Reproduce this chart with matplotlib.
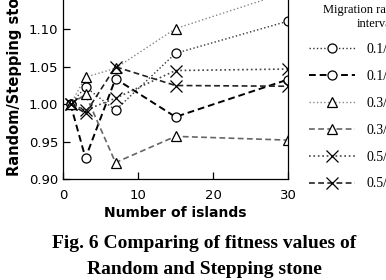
import matplotlib
matplotlib.use("Agg")
import matplotlib.pyplot as plt

islands = [1, 3, 7, 15, 30]
labels = ["0.1/5", "0.1/10", "0.3/5", "0.3/10", "0.5/5", "0.5/10"]
r01_a = [1.000, 1.023, 0.992, 1.068, 1.111]
r01_b = [1.000, 0.928, 1.034, 0.983, 1.033]
r03_a = [1.000, 1.036, 1.048, 1.101, 1.150]
r03_b = [1.000, 1.013, 0.922, 0.957, 0.952]
r05_a = [1.000, 0.992, 1.008, 1.045, 1.047]
r05_b = [1.000, 0.988, 1.050, 1.025, 1.024]

series = [r01_a, r01_b, r03_a, r03_b, r05_a, r05_b]
styles = [
    dict(ls=":", color="#333333", lw=1.0, marker="o"),
    dict(ls=(0, (3.5, 2)), color="black", lw=1.4, marker="o"),
    dict(ls=":", color="#888888", lw=1.0, marker="^"),
    dict(ls=(0, (3.5, 2)), color="#666666", lw=1.2, marker="^"),
    dict(ls=":", color="#444444", lw=1.2, marker="x"),
    dict(ls=(0, (3.5, 2)), color="#222222", lw=1.2, marker="x"),
]

fig = plt.figure(figsize=(3.86, 2.80), dpi=100)
ax = fig.add_axes([63/386, 1 - 179/280, 225/386, (179 + 8)/280])

for vals, lab, st in zip(series, labels, styles):
    ms = 9 if st["marker"] == "x" else 6.5
    ax.plot(islands, vals, label=lab, markersize=ms, markerfacecolor="white",
            markeredgecolor="black", markeredgewidth=0.9, **st)

ax.set_xlim(0, 30)
ax.set_ylim(0.90, 1.15)
ax.set_xticks([0, 10, 20, 30])
ax.set_yticks([0.90, 0.95, 1.00, 1.05, 1.10])
ax.set_yticklabels(["0.90", "0.95", "1.00", "1.05", "1.10"])
ax.tick_params(direction="in", labelsize=9.5, length=5, width=0.9)
ax.tick_params(axis="x", pad=7)
for sp in ax.spines.values():
    sp.set_linewidth(0.9)

ax.set_xlabel("Number of islands", fontsize=10, fontweight="bold", labelpad=3)
ax.set_ylabel("Random/Stepping stone", fontsize=10.5, fontweight="bold")
ax.yaxis.set_label_coords(-0.182, 0.548)

leg = ax.legend(loc="upper left", bbox_to_anchor=(309/386, 1 - 43/280),
                bbox_transform=fig.transFigure, frameon=False,
                prop={"family": "Liberation Serif", "size": 10},
                handlelength=3.3, handletextpad=0.85, labelspacing=1.0,
                borderaxespad=0, borderpad=0)

fig.text(323/386, 1 - 10/280, "Migration rate/", family="Liberation Serif",
         fontsize=9, ha="left", va="center")
fig.text(357/386, 1 - 24/280, "interval", family="Liberation Serif",
         fontsize=9, ha="left", va="center")

fig.text(204/386, 1 - 243/280, "Fig. 6 Comparing of fitness values of",
         family="Liberation Serif", fontweight="bold", fontsize=14,
         ha="center", va="center")
fig.text(204/386, 1 - 270/280, "Random and Stepping stone",
         family="Liberation Serif", fontweight="bold", fontsize=14,
         ha="center", va="center")

fig.savefig("out.png", dpi=100)
